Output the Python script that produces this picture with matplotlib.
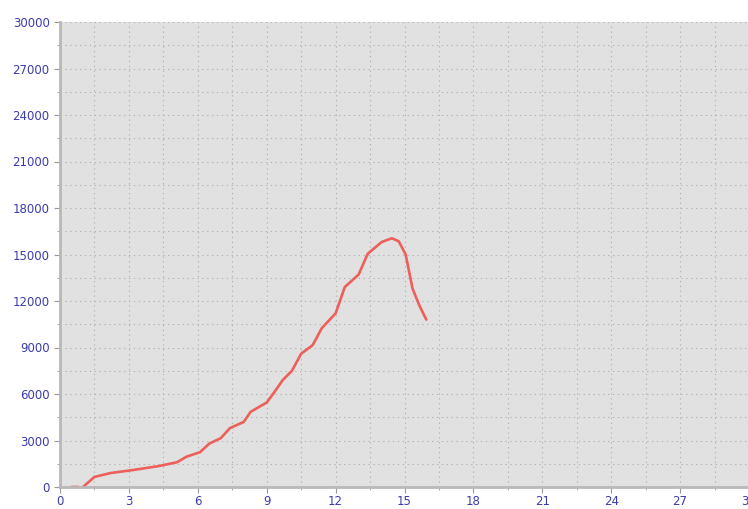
import matplotlib
matplotlib.use('Agg')
import matplotlib.pyplot as plt
import numpy as np
from matplotlib.ticker import MultipleLocator

# curve (nan = gap in the line)
xs = [0.5, 0.8, np.nan, 1.0, 1.5, 2.2, 3.2, 4.3, 5.1, 5.5, 6.1, 6.5, 7.0, 7.4, 8.0,
      8.3, 9.0, 9.3, 9.7, 10.1, 10.5, 11.0, 11.4, 12.0, 12.4, 13.0, 13.4, 14.0,
      14.45, 14.75, 15.05, 15.35, 15.65, 15.95]
ys = [0, 0, np.nan, 0, 650, 900, 1100, 1350, 1600, 1950, 2250, 2800, 3150, 3800, 4200,
      4850, 5450, 6050, 6900, 7500, 8600, 9150, 10250, 11200, 12900, 13700, 15050, 15800,
      16050, 15850, 15000, 12800, 11700, 10800]

xticks = list(range(0, 31, 3))
yticks = list(range(0, 30001, 3000))

fig = plt.figure(figsize=(7.48, 5.09), dpi=100)
ax = fig.add_axes([60/748, 22/509, 689/748, 465/509])
ax.set_facecolor('#e1e1e1')

ax.plot(xs, ys, color='#ec5f5a', linewidth=1.9, solid_capstyle='round', solid_joinstyle='round')

ax.set_xlim(0, 30)
ax.set_ylim(0, 30000)
ax.set_xticks(xticks)
ax.set_yticks(yticks)
ax.xaxis.set_minor_locator(MultipleLocator(1.5))
ax.yaxis.set_minor_locator(MultipleLocator(1500))
ax.grid(True, which='both', linestyle=(0, (1.2, 3.2)), color='#b4b4b4', linewidth=0.8)
ax.set_axisbelow(True)

for s in ['top', 'right']:
    ax.spines[s].set_visible(False)
for s in ['left', 'bottom']:
    ax.spines[s].set_color('#b8b8b8')
    ax.spines[s].set_linewidth(2)

ax.tick_params(which='major', length=4, color='#999999', labelsize=8.5, labelcolor='#3b3bb0')
ax.tick_params(which='minor', length=2, color='#999999')
ax.tick_params(axis='x', pad=2)

fig.savefig('out.png', dpi=100)
